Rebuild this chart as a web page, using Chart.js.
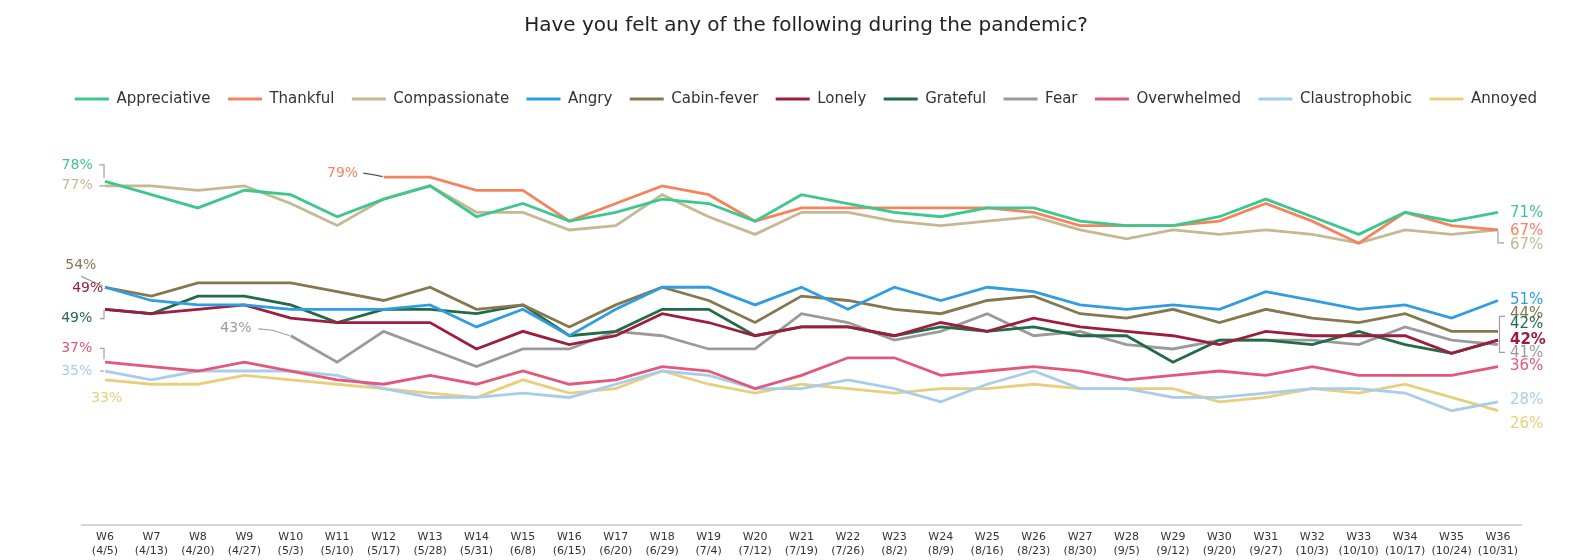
<!DOCTYPE html>
<html>
<head>
<meta charset="utf-8">
<script src="https://cdn.jsdelivr.net/npm/chart.js@4"></script>
<style>
html,body{margin:0;padding:0;background:#fff;}
#wrap{width:1580px;height:560px;position:relative;}
</style>
</head>
<body>
<div id="wrap"><canvas id="c" width="1580" height="560"></canvas></div>
<script>
const weeks = ['W6','W7','W8','W9','W10','W11','W12','W13','W14','W15','W16','W17','W18','W19','W20','W21','W22','W23','W24','W25','W26','W27','W28','W29','W30','W31','W32','W33','W34','W35','W36'];
const dates = ['(4/5)','(4/13)','(4/20)','(4/27)','(5/3)','(5/10)','(5/17)','(5/28)','(5/31)','(6/8)','(6/15)','(6/20)','(6/29)','(7/4)','(7/12)','(7/19)','(7/26)','(8/2)','(8/9)','(8/16)','(8/23)','(8/30)','(9/5)','(9/12)','(9/20)','(9/27)','(10/3)','(10/10)','(10/17)','(10/24)','(10/31)'];

const appreciative   = [78,75,72,76,75,70,74,77,70,73,69,71,74,73,69,75,73,71,70,72,72,69,68,68,70,74,70,66,71,69,71];
const thankful       = [null,null,null,null,null,null,79,79,76,76,69,73,77,75,69,72,72,72,72,72,71,68,68,68,69,73,69,64,71,68,67];
const compassionate  = [77,77,76,77,73,68,74,77,71,71,67,68,75,70,66,71,71,69,68,69,70,67,65,67,66,67,66,64,67,66,67];
const angry          = [54,51,50,50,49,49,49,50,45,49,43,49,54,54,50,54,49,54,51,54,53,50,49,50,49,53,51,49,50,47,51];
const cabinFever     = [54,52,55,55,55,53,51,54,49,50,45,50,54,51,46,52,51,49,48,51,52,48,47,49,46,49,47,46,48,44,44];
const lonely         = [49,48,49,50,47,46,46,46,40,44,41,43,48,46,43,45,45,43,46,44,47,45,44,43,41,44,43,43,43,39,42];
const grateful       = [49,48,52,52,50,46,49,49,48,50,43,44,49,49,43,45,45,43,45,44,45,43,43,37,42,42,41,44,41,39,42];
const fear           = [null,null,null,null,43,37,44,40,36,40,40,44,43,40,40,48,46,42,44,48,43,44,41,40,42,42,42,41,45,42,41];
const overwhelmed    = [37,36,35,37,35,33,32,34,32,35,32,33,36,35,31,34,38,38,34,35,36,35,33,34,35,34,36,34,34,34,36];
const claustrophobic = [35,33,35,35,35,34,31,29,29,30,29,32,35,34,31,31,33,31,28,32,35,31,31,29,29,30,31,31,30,26,28];
const annoyed        = [33,32,32,34,33,32,31,30,29,33,30,31,35,32,30,32,31,30,31,31,32,31,31,31,28,29,31,30,32,29,26];

const seriesNames = ['Appreciative','Thankful','Compassionate','Angry','Cabin-fever','Lonely','Grateful','Fear','Overwhelmed','Claustrophobic','Annoyed'];
const seriesData = [appreciative,thankful,compassionate,angry,cabinFever,lonely,grateful,fear,overwhelmed,claustrophobic,annoyed];
const seriesColors = ['#3ec78c','#f4845f','#c5b892','#2f9de0','#85784f','#9c1d3c','#226b47','#9a9a9a','#e2577a','#a8cdea','#e6d07c'];

const FONT = "'DejaVu Sans', 'Liberation Sans', sans-serif";

// label placement (pixel offsets from the first / last point of a series)
const startLabels = {
  'Appreciative':  {dx:-12.3, dy:-16.6, align:'right', leader:[[-5.7,-16.6],[-1,-16.6],[-1,-3.6]]},
  'Compassionate': {dx:-12.3, dy:-1, align:'right', leader:[[-5.7,0],[0,0]]},
  'Thankful':      {dx:-25.5, dy:-3.9, align:'right', leader:[[-20.3,-3.9],[-8,-2],[-1,-0.5]], lc:'#555'},
  'Cabin-fever':   {dx:-8.6, dy:-21.9, align:'right', leader:[[-24,-10.9],[-2,-1]]},
  'Lonely':        {dx:-1.7, dy:-20.6, align:'right'},
  'Grateful':      {dx:-12.7, dy:9.4, align:'right', leader:[[-5,9.4],[-1,9.4],[-1,0.4]]},
  'Fear':          {dx:-39.3, dy:-6.9, align:'right', leader:[[-32.4,-6.9],[-18,-5.5],[-1,0]]},
  'Overwhelmed':   {dx:-12.7, dy:-13.9, align:'right', leader:[[-5,-13.9],[-1,-13.9],[-1,-3]]},
  'Claustrophobic':{dx:-12.7, dy:0, align:'right', leader:[[-5,0],[-1,0]]},
  'Annoyed':       {dx:1.7, dy:18.2, align:'center'}
};
const endLabels = {
  'Appreciative':  {dx:12, dy:0.4},
  'Thankful':      {dx:12, dy:0.8},
  'Compassionate': {dx:12, dy:15, leader:[[0,1],[0,13],[6,13]]},
  'Angry':         {dx:12, dy:0},
  'Cabin-fever':   {dx:12, dy:-17.5, leader:[[7,-15],[1.5,-15],[1.5,21],[7,21]]},
  'Grateful':      {dx:12, dy:-16.3},
  'Lonely':        {dx:12, dy:0, bold:true},
  'Fear':          {dx:12, dy:8.7},
  'Overwhelmed':   {dx:12, dy:0},
  'Claustrophobic':{dx:12, dy:-1.8},
  'Annoyed':       {dx:12, dy:13.3}
};

const labelPlugin = {
  id:'endLabels',
  afterDatasetsDraw(chart){
    const ctx = chart.ctx;
    const xs = chart.scales.x, ys = chart.scales.y;
    ctx.save();
    chart.data.datasets.forEach((ds, i) => {
      const name = ds.label;
      const data = ds.data;
      let first = data.findIndex(v => v !== null);
      let last = data.length - 1;
      while (last >= 0 && data[last] === null) last--;
      const draw = (idx, cfg, size) => {
        if (!cfg) return;
        const ax = xs.getPixelForValue(idx), ay = ys.getPixelForValue(data[idx]);
        if (cfg.leader) {
          ctx.strokeStyle = cfg.lc || '#a0a0a0';
          ctx.lineWidth = 1.2;
          ctx.beginPath();
          cfg.leader.forEach((p, k) => { if (k === 0) ctx.moveTo(ax + p[0], ay + p[1]); else ctx.lineTo(ax + p[0], ay + p[1]); });
          ctx.stroke();
        }
        ctx.fillStyle = ds.borderColor;
        ctx.font = (cfg.bold ? 'bold ' : '') + size + 'px ' + FONT;
        ctx.textAlign = cfg.align || 'left';
        ctx.textBaseline = 'middle';
        ctx.fillText(data[idx] + '%', ax + cfg.dx, ay + cfg.dy);
      };
      draw(first, startLabels[name], 14);
      draw(last, endLabels[name], 15);
    });
    ctx.restore();
  }
};

const datasets = seriesNames.map((n, i) => ({
  label: n,
  data: seriesData[i],
  borderColor: seriesColors[i],
  backgroundColor: seriesColors[i],
  borderWidth: 2.8,
  pointRadius: 0,
  pointHoverRadius: 0,
  tension: 0,
  fill: false,
  spanGaps: false
}));

new Chart(document.getElementById('c'), {
  type: 'line',
  data: { labels: weeks.map((w, i) => [w, dates[i]]), datasets },
  options: {
    responsive: false,
    animation: false,
    devicePixelRatio: 1,
    layout: { padding: { left: 32, right: 0, top: 0, bottom: -3 } },
    plugins: {
      title: {
        display: true,
        text: 'Have you felt any of the following during the pandemic?',
        color: '#222',
        font: { family: FONT, size: 20, weight: 'normal' },
        padding: { top: 14, bottom: 36 }
      },
      legend: {
        display: true,
        position: 'top',
        labels: {
          color: '#333',
          font: { family: FONT, size: 15 },
          boxWidth: 34,
          boxHeight: 3,
          padding: 17.4,
          generateLabels(chart) {
            return chart.data.datasets.map((d, i) => ({
              text: d.label, fillStyle: d.borderColor, strokeStyle: d.borderColor,
              lineWidth: 0, hidden: false, datasetIndex: i, fontColor: '#333'
            }));
          }
        }
      },
      tooltip: { enabled: false }
    },
    scales: {
      x: {
        offset: true,
        grid: { display: false, drawTicks: false },
        border: { display: true, color: '#d6d6d6', width: 2 },
        ticks: { color: '#333', font: { family: FONT, size: 11, lineHeight: 1.35 }, padding: 4, maxRotation: 0, autoSkip: false }
      },
      y: {
        display: true,
        position: 'left',
        min: 0,
        max: 92.76,
        grid: { display: false, drawTicks: false },
        border: { display: false },
        ticks: { display: false },
        afterFit(s) { s.width = 49.8; }
      },
      yRight: {
        display: true,
        position: 'right',
        min: 0,
        max: 92.76,
        grid: { display: false, drawTicks: false },
        border: { display: false },
        ticks: { display: false },
        afterFit(s) { s.width = 58.8; }
      }
    }
  },
  plugins: [labelPlugin]
});
</script>
</body>
</html>
